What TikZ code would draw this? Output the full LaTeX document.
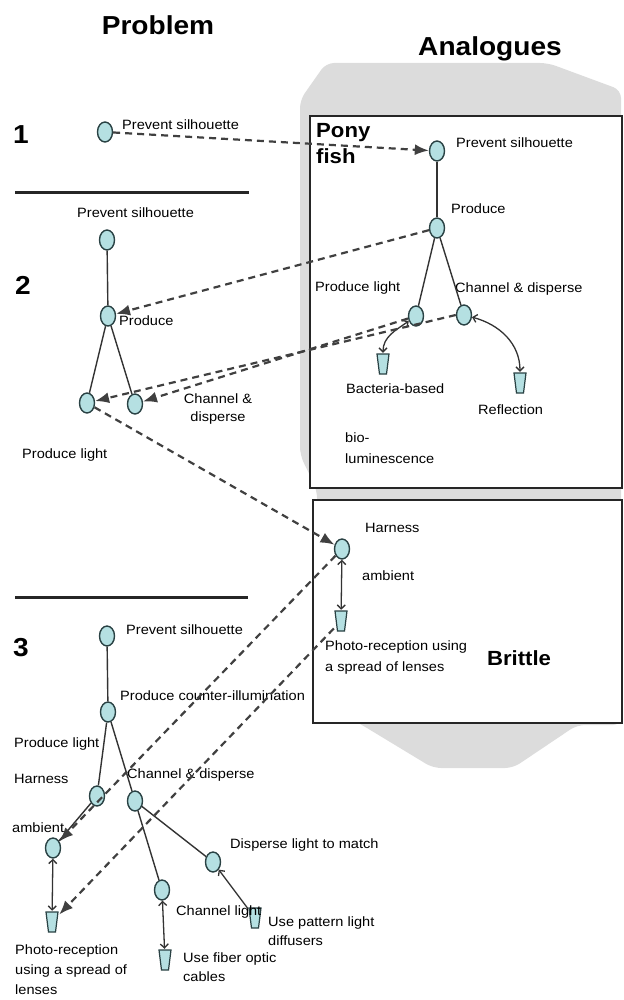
\documentclass[tikz,border=0pt]{standalone}
\usepackage{fontspec}
\setmainfont{Liberation Sans}[FakeStretch=1.08]
\usetikzlibrary{shapes.geometric,arrows.meta}
\definecolor{ndfill}{HTML}{B5E0E2}
\definecolor{ndline}{HTML}{2A4244}
\definecolor{lncol}{HTML}{333333}
\definecolor{dshcol}{HTML}{404040}
\definecolor{bgrey}{HTML}{DCDCDC}
\newcommand\lblfont{\fontsize{13.5}{16}\selectfont}
\newcommand\headfont{\fontsize{26}{30}\selectfont\bfseries}
\newcommand\boxfont{\fontsize{20.5}{26}\selectfont\bfseries}
\newcommand\numfont{\fontsize{26}{30}\selectfont\bfseries}
\begin{document}
\begin{tikzpicture}[x=1pt,y=-1pt,
  nd/.style={ellipse, draw=ndline, fill=ndfill, line width=1.4pt, minimum width=15pt, minimum height=20pt, inner sep=0pt},
  cup/.style={rectangle, minimum width=14pt, minimum height=22pt, inner sep=0pt,
    path picture={\filldraw[draw=ndline, fill=ndfill, line width=1.2pt]
      ([xshift=1pt,yshift=-1pt]path picture bounding box.north west) --
      ([xshift=-1pt,yshift=-1pt]path picture bounding box.north east) --
      ([xshift=-3.5pt,yshift=1pt]path picture bounding box.south east) --
      ([xshift=3.5pt,yshift=1pt]path picture bounding box.south west) -- cycle;}},
  lbl/.style={font=\lblfont, inner sep=0pt, anchor=west, align=left},
  head/.style={font=\headfont, inner sep=0pt},
  boxttl/.style={font=\boxfont, inner sep=0pt, align=left, anchor=west},
  num/.style={font=\numfont, inner sep=0pt},
  tree/.style={draw=lncol, line width=1.4pt},
  dsh/.style={draw=dshcol, line width=2.2pt, dash pattern=on 7pt off 5pt, -{Latex[length=14pt,width=11pt]}},
  dbl/.style={draw=lncol, line width=1.3pt, {Straight Barb[length=4pt,width=8pt]}-{Straight Barb[length=4pt,width=8pt]}},
  sgl/.style={draw=lncol, line width=1.3pt, -{Straight Barb[length=4pt,width=8pt]}},
  frame/.style={draw=black!85, line width=1.8pt, fill=white},
  rule/.style={draw=black!85, line width=3pt}
]
\useasboundingbox (0,0) rectangle (623,1000);
% grey background of analogues
\fill[bgrey, rounded corners=8pt] (300,100) -- (326,63) -- (548,63) -- (621,90) -- (621,725) -- (577,725) -- (513,768) -- (433,768) -- (362,725) -- (317,700) -- (317,490) -- (300,455) -- cycle;
% boxes
\draw[frame] (310,116) rectangle (622,488);
\draw[frame] (313,500) rectangle (622,723);
% headings
\node[head] (hprob) at (158,25) {Problem};
\node[head] (hana) at (490,49) {Analogues};
\node[num] (n1) at (21,135) {1};
\node[num] (n2) at (23,285) {2};
\node[num] (n3) at (21,648) {3};
\draw[rule] (15,193) -- (249,193);
\draw[rule] (15,597) -- (248,597);
\node[boxttl] (pony) at (316,144) {Pony\\fish};
\node[boxttl, anchor=center] (brit) at (519,658) {Brittle};

% nodes
\node[nd] (p1) at (105,132) {};
\node[nd] (pf1) at (437,151) {};
\node[nd] (pf2) at (437,228) {};
\node[nd] (pf3) at (416,316) {};
\node[nd] (pf4) at (464,315) {};
\node[cup] (bact) at (383,364) {};
\node[cup] (refl) at (520,383) {};
\node[nd] (p2a) at (107,240) {};
\node[nd] (p2b) at (108,316) {};
\node[nd] (p2c) at (87,403) {};
\node[nd] (p2d) at (135,404) {};
\node[nd] (bh) at (342,549) {};
\node[cup] (bc) at (341,621) {};
\node[nd] (p3a) at (107,636) {};
\node[nd] (p3b) at (108,712) {};
\node[nd] (p3c) at (97,796) {};
\node[nd] (p3d) at (135,801) {};
\node[nd] (p3e) at (53,848) {};
\node[cup] (p3f) at (52,922) {};
\node[nd] (p3g) at (162,890) {};
\node[cup] (p3h) at (165,960) {};
\node[nd] (p3i) at (213,862) {};
\node[cup] (p3j) at (255,918) {};

% labels
\node[lbl] (l1) at (122,125) {Prevent silhouette};
\node[lbl] (lpf1) at (456,143) {Prevent silhouette};
\node[lbl] (lpf2) at (451,209) {Produce};
\node[lbl] (lpf3) at (315,288) {Produce light};
\node[lbl] (lpf4) at (455,289) {Channel \& disperse};
\node[lbl] (lbact) at (346,389) {Bacteria-based};
\node[lbl, font=\fontsize{13.5}{21}\selectfont] (lbio) at (345,448) {bio-\\luminescence};
\node[lbl] (lrefl) at (478,410) {Reflection};
\node[lbl] (l2a) at (77,213) {Prevent silhouette};
\node[lbl] (l2b) at (119,321) {Produce};
\node[lbl] (l2c) at (22,455) {Produce light};
\node[lbl, align=center, anchor=center, font=\fontsize{13.5}{18.5}\selectfont] (l2d) at (218,409) {Channel \&\\disperse};
\node[lbl] (lbh) at (365,528) {Harness};
\node[lbl] (lamb) at (362,576) {ambient};
\node[lbl, font=\fontsize{13.5}{21}\selectfont] (lbc) at (325,658) {Photo-reception using\\a spread of lenses};
\node[lbl] (l3a) at (126,630) {Prevent silhouette};
\node[lbl] (l3b) at (120,696) {Produce counter-illumination};
\node[lbl] (l3c) at (14,744) {Produce light};
\node[lbl] (l3ch) at (14,779) {Harness};
\node[lbl] (l3d) at (127,775) {Channel \& disperse};
\node[lbl] (l3e) at (12,828) {ambient};
\node[lbl, font=\fontsize{13.5}{20}\selectfont] (l3f) at (15,970) {Photo-reception\\using a spread of\\lenses};
\node[lbl] (l3g) at (176,912) {Channel light};
\node[lbl, font=\fontsize{13.5}{19}\selectfont] (l3h) at (183,967) {Use fiber optic\\cables};
\node[lbl] (l3i) at (230,845) {Disperse light to match};
\node[lbl, font=\fontsize{13.5}{19}\selectfont] (l3j) at (268,931) {Use pattern light\\diffusers};

% tree lines
\draw[tree] (pf1) -- (pf2);
\draw[tree] (pf2) -- (pf3);
\draw[tree] (pf2) -- (pf4);
\draw[tree] (p2a) -- (p2b);
\draw[tree] (p2b) -- (p2c);
\draw[tree] (p2b) -- (p2d);
\draw[tree] (p3a) -- (p3b);
\draw[tree] (p3b) -- (p3c);
\draw[tree] (p3b) -- (p3d);
\draw[tree] (p3c) -- (p3e);
\draw[tree] (p3d) -- (p3g);
\draw[tree] (p3d) -- (p3i);

% solution arrows
\draw[dbl] (pf3) to[out=215,in=90] (bact);
\draw[dbl] (pf4) to[out=-15,in=90] (refl);
\draw[dbl] (bh) -- (bc);
\draw[dbl] (p3e) -- (p3f);
\draw[dbl] (p3g) -- (p3h);
\draw[sgl] (p3j) -- (p3i);

% analogy mappings
\draw[dsh] (p1) -- (pf1);
\draw[dsh] (pf2) -- (p2b);
\draw[dsh] (pf3) -- (p2d);
\draw[dsh] (pf4.west) -- (p2c);
\draw[dsh] (p2c) -- (bh);
\draw[dsh] (bh) -- (p3e);
\draw[dsh] (bc) -- (p3f);
\end{tikzpicture}
\end{document}
